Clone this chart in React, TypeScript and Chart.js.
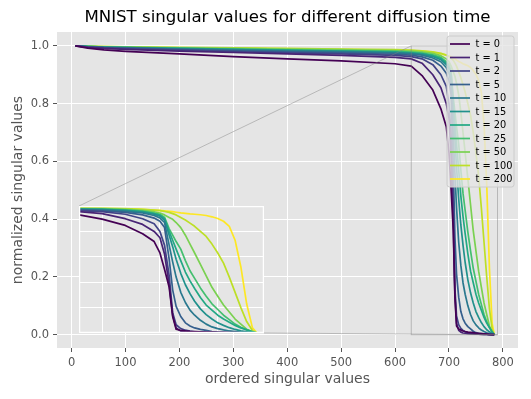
import React, { useEffect, useRef } from "react";
import { Chart, registerables } from "chart.js";
Chart.register(...registerables);

// ---- data ----
const xs = [7, 30, 60, 100, 200, 300, 400, 500, 600, 630, 650, 670, 685, 695, 700, 704, 708, 711, 714, 718, 722, 726, 730, 735, 740, 745, 750, 755, 760, 765, 770, 775, 780, 784];

const labels = ["t = 0", "t = 1", "t = 2", "t = 5", "t = 10", "t = 15", "t = 20", "t = 25", "t = 50", "t = 100", "t = 200"];
const colors = ["#440154", "#482475", "#414487", "#355f8d", "#2a788e", "#21918c", "#22a884", "#44bf70", "#7ad151", "#bddf26", "#fde725"];

const t0 = [1.0, 0.992, 0.986, 0.981, 0.972, 0.963, 0.955, 0.948, 0.938, 0.93, 0.897, 0.847, 0.782, 0.72, 0.63, 0.5, 0.36, 0.13, 0.03, 0.02, 0.016, 0.013, 0.011, 0.009, 0.008, 0.007, 0.006, 0.005, 0.004, 0.003, 0.002, 0.001, 0.0005, 0];
const t1 = [1.0, 0.995, 0.991, 0.988, 0.982, 0.977, 0.972, 0.967, 0.96, 0.955, 0.94, 0.9, 0.855, 0.8, 0.75, 0.62, 0.38, 0.14, 0.04, 0.015, 0.009, 0.006, 0.005, 0.004, 0.003, 0.003, 0.002, 0.002, 0.001, 0.001, 0.001, 0.0005, 0.0002, 0];
const t2 = [1.0, 0.996, 0.993, 0.99, 0.985, 0.98, 0.976, 0.972, 0.967, 0.963, 0.955, 0.935, 0.9, 0.86, 0.8, 0.69, 0.45, 0.16, 0.065, 0.035, 0.022, 0.015, 0.01, 0.007, 0.005, 0.004, 0.003, 0.002, 0.002, 0.001, 0.001, 0.0005, 0.0002, 0];
const t5 = [1.0, 0.997, 0.994, 0.992, 0.987, 0.983, 0.979, 0.976, 0.971, 0.968, 0.962, 0.95, 0.93, 0.905, 0.88, 0.83, 0.58, 0.34, 0.21, 0.13, 0.08, 0.055, 0.04, 0.028, 0.02, 0.012, 0.007, 0.005, 0.004, 0.003, 0.002, 0.001, 0.0005, 0];
const t10 = [1.0, 0.997, 0.995, 0.993, 0.989, 0.985, 0.982, 0.979, 0.975, 0.972, 0.968, 0.958, 0.945, 0.925, 0.905, 0.87, 0.69, 0.56, 0.44, 0.32, 0.24, 0.18, 0.14, 0.1, 0.07, 0.048, 0.034, 0.024, 0.016, 0.011, 0.007, 0.004, 0.002, 0];
const t15 = [1.0, 0.997, 0.995, 0.994, 0.99, 0.987, 0.984, 0.981, 0.977, 0.974, 0.971, 0.963, 0.952, 0.935, 0.92, 0.89, 0.77, 0.68, 0.58, 0.47, 0.38, 0.31, 0.25, 0.19, 0.145, 0.11, 0.08, 0.06, 0.042, 0.028, 0.017, 0.01, 0.004, 0];
const t20 = [1.0, 0.998, 0.996, 0.994, 0.991, 0.988, 0.985, 0.982, 0.979, 0.976, 0.973, 0.966, 0.956, 0.94, 0.928, 0.9, 0.8, 0.73, 0.66, 0.57, 0.48, 0.41, 0.35, 0.28, 0.22, 0.18, 0.14, 0.11, 0.085, 0.06, 0.04, 0.025, 0.01, 0];
const t25 = [1.0, 0.998, 0.996, 0.995, 0.992, 0.989, 0.986, 0.984, 0.981, 0.978, 0.975, 0.969, 0.96, 0.945, 0.935, 0.91, 0.82, 0.77, 0.72, 0.66, 0.57, 0.49, 0.43, 0.355, 0.29, 0.23, 0.185, 0.14, 0.105, 0.07, 0.045, 0.025, 0.01, 0];
const t50 = [1.0, 0.998, 0.997, 0.996, 0.993, 0.991, 0.989, 0.987, 0.984, 0.982, 0.979, 0.974, 0.966, 0.955, 0.945, 0.93, 0.91, 0.895, 0.87, 0.83, 0.77, 0.7, 0.63, 0.54, 0.45, 0.36, 0.29, 0.22, 0.165, 0.11, 0.07, 0.03, 0.01, 0];
const t100 = [1.0, 0.999, 0.998, 0.997, 0.995, 0.993, 0.991, 0.989, 0.987, 0.985, 0.983, 0.979, 0.974, 0.968, 0.963, 0.957, 0.95, 0.94, 0.93, 0.91, 0.89, 0.865, 0.84, 0.8, 0.76, 0.7, 0.63, 0.55, 0.44, 0.32, 0.2, 0.09, 0.02, 0];
const t200 = [1.0, 0.998, 0.996, 0.995, 0.993, 0.991, 0.989, 0.987, 0.985, 0.984, 0.982, 0.978, 0.973, 0.968, 0.965, 0.962, 0.958, 0.955, 0.951, 0.946, 0.942, 0.938, 0.935, 0.931, 0.925, 0.915, 0.902, 0.88, 0.84, 0.73, 0.52, 0.23, 0.04, 0];

const series = [t0, t1, t2, t5, t10, t15, t20, t25, t50, t100, t200];

const titleText = "MNIST singular values for different diffusion time";
const xTicks = [0, 100, 200, 300, 400, 500, 600, 700, 800];
const yTicks = [0, 0.2, 0.4, 0.6, 0.8, 1.0];
const insetXTicks = [650, 700, 750];
const insetYTicks = [0, 0.2, 0.4, 0.6, 0.8, 1.0];
const zoomX = [630, 790];
const zoomY = [0, 1];
// inset placement in axes fraction: [x0, y0, width, height]
const insetBox = [0.048, 0.046, 0.4, 0.403];

const FONT = "DejaVu Sans";
const BG = "#E5E5E5";

function makeDatasets() {
  return series.map((s, i) => ({
    label: labels[i],
    data: xs.map((x, j) => ({ x, y: s[j] })),
    borderColor: colors[i],
    backgroundColor: colors[i],
    borderWidth: 1.7,
    borderJoinStyle: "round" as const,
    pointRadius: 0,
    pointHoverRadius: 0,
    tension: 0,
    fill: false,
  }));
}

function insetRect(ca: any) {
  const w = ca.right - ca.left;
  const h = ca.bottom - ca.top;
  return {
    left: Math.round(ca.left + insetBox[0] * w),
    right: Math.round(ca.left + (insetBox[0] + insetBox[2]) * w),
    top: Math.round(ca.bottom - (insetBox[1] + insetBox[3]) * h),
    bottom: Math.round(ca.bottom - insetBox[1] * h),
  };
}

const bgPlugin = {
  id: "bgFill",
  beforeDraw(chart: any) {
    const { ctx, chartArea: ca } = chart;
    ctx.save();
    ctx.fillStyle = BG;
    ctx.fillRect(ca.left, ca.top, ca.right - ca.left, ca.bottom - ca.top);
    ctx.fillStyle = "#000";
    ctx.font = `16.6px "${FONT}"`;
    ctx.textAlign = "center";
    ctx.textBaseline = "middle";
    ctx.fillText(titleText, (ca.left + ca.right) / 2, 18);
    ctx.restore();
  },
};

const zoomPlugin = {
  id: "zoomIndicator",
  afterDatasetsDraw(chart: any) {
    const { ctx, chartArea: ca, scales } = chart;
    const x0 = scales.x.getPixelForValue(zoomX[0]);
    const x1 = scales.x.getPixelForValue(zoomX[1]);
    const y0 = scales.y.getPixelForValue(zoomY[0]);
    const y1 = scales.y.getPixelForValue(zoomY[1]);
    const r = insetRect(ca);
    ctx.save();
    ctx.strokeStyle = "rgba(128,128,128,0.5)";
    ctx.lineWidth = 0.9;
    ctx.strokeRect(x0, y1, x1 - x0, y0 - y1);
    ctx.beginPath();
    ctx.moveTo(r.left, r.top);
    ctx.lineTo(x0, y1);
    ctx.moveTo(r.right, r.bottom);
    ctx.lineTo(x1, y0);
    ctx.stroke();
    ctx.restore();
  },
};

const legendPlugin = {
  id: "mplLegend",
  afterDraw(chart: any) {
    const { ctx, chartArea: ca } = chart;
    const w = 67;
    const h = 151;
    const x0 = ca.right - 4 - w;
    const y0 = ca.top + 4;
    ctx.save();
    ctx.beginPath();
    const rr = 2.5;
    ctx.moveTo(x0 + rr, y0);
    ctx.lineTo(x0 + w - rr, y0);
    ctx.quadraticCurveTo(x0 + w, y0, x0 + w, y0 + rr);
    ctx.lineTo(x0 + w, y0 + h - rr);
    ctx.quadraticCurveTo(x0 + w, y0 + h, x0 + w - rr, y0 + h);
    ctx.lineTo(x0 + rr, y0 + h);
    ctx.quadraticCurveTo(x0, y0 + h, x0, y0 + h - rr);
    ctx.lineTo(x0, y0 + rr);
    ctx.quadraticCurveTo(x0, y0, x0 + rr, y0);
    ctx.closePath();
    ctx.fillStyle = "rgba(229,229,229,0.8)";
    ctx.fill();
    ctx.strokeStyle = "#cccccc";
    ctx.lineWidth = 1;
    ctx.stroke();
    ctx.font = `9.8px "${FONT}"`;
    ctx.textBaseline = "middle";
    ctx.textAlign = "left";
    chart.data.datasets.forEach((ds: any, i: number) => {
      const cy = y0 + 8 + i * 13.5;
      ctx.strokeStyle = ds.borderColor;
      ctx.lineWidth = 1.7;
      ctx.beginPath();
      ctx.moveTo(x0 + 3, cy);
      ctx.lineTo(x0 + 23, cy);
      ctx.stroke();
      ctx.fillStyle = "#000";
      ctx.fillText(ds.label, x0 + 28.5, cy + 0.5);
    });
    ctx.restore();
  },
};

const insetFramePlugin = {
  id: "insetFrame",
  beforeDraw(chart: any) {
    const { ctx, chartArea: ca } = chart;
    ctx.save();
    ctx.fillStyle = BG;
    ctx.fillRect(ca.left, ca.top, ca.right - ca.left, ca.bottom - ca.top);
    ctx.restore();
  },
  afterDraw(chart: any) {
    const { ctx, chartArea: ca } = chart;
    ctx.save();
    ctx.strokeStyle = "#ffffff";
    ctx.lineWidth = 1.5;
    ctx.strokeRect(ca.left + 0.5, ca.top + 0.5, ca.right - ca.left - 1, ca.bottom - ca.top - 1);
    ctx.restore();
  },
};

export default function App() {
  const mainRef = useRef<HTMLCanvasElement>(null);
  const insetRef = useRef<HTMLCanvasElement>(null);

  useEffect(() => {
    document.body.style.margin = "0";
    const mainCanvas = mainRef.current!;
    const insetCanvas = insetRef.current!;

    const main = new Chart(mainCanvas, {
      type: "line",
      data: { datasets: makeDatasets() as any },
      options: {
        responsive: false,
        maintainAspectRatio: false,
        animation: false,
        events: [],
        layout: { padding: { left: 0, right: 13, top: 32, bottom: 0 } },
        plugins: {
          legend: { display: false },
          tooltip: { enabled: false },
          title: { display: false },
        },
        scales: {
          x: {
            type: "linear",
            min: -27,
            max: 828,
            afterBuildTicks: (scale: any) => {
              scale.ticks = xTicks.map((v) => ({ value: v }));
            },
            afterFit: (scale: any) => {
              scale.height = 51;
            },
            ticks: {
              color: "#555555",
              font: { family: FONT, size: 11.5 },
              padding: 4,
              maxRotation: 0,
              callback: (v: any) => String(v),
            },
            grid: { color: "#ffffff", lineWidth: 1, tickColor: "#555555", tickLength: 4, tickWidth: 1 },
            border: { display: false },
            title: {
              display: true,
              text: "ordered singular values",
              color: "#555555",
              font: { family: FONT, size: 14 },
              padding: { top: 0, bottom: 11.5 },
            },
          },
          y: {
            type: "linear",
            min: -0.046,
            max: 1.048,
            afterBuildTicks: (scale: any) => {
              scale.ticks = yTicks.map((v) => ({ value: v }));
            },
            afterFit: (scale: any) => {
              scale.width = 57;
            },
            ticks: {
              color: "#555555",
              font: { family: FONT, size: 11.5 },
              padding: 4,
              callback: (v: any) => Number(v).toFixed(1),
            },
            grid: { color: "#ffffff", lineWidth: 1, tickColor: "#555555", tickLength: 4, tickWidth: 1 },
            border: { display: false },
            title: {
              display: true,
              text: "normalized singular values",
              color: "#555555",
              font: { family: FONT, size: 14 },
              padding: { top: 9.5, bottom: 0 },
            },
          },
        },
      },
      plugins: [bgPlugin, zoomPlugin, legendPlugin],
    });

    const r = insetRect(main.chartArea);
    const iw = r.right - r.left;
    const ih = r.bottom - r.top;
    insetCanvas.style.left = r.left + "px";
    insetCanvas.style.top = r.top + "px";
    insetCanvas.width = iw;
    insetCanvas.height = ih;
    insetCanvas.style.width = iw + "px";
    insetCanvas.style.height = ih + "px";

    const inset = new Chart(insetCanvas, {
      type: "line",
      data: { datasets: makeDatasets() as any },
      options: {
        responsive: false,
        maintainAspectRatio: false,
        animation: false,
        events: [],
        layout: { padding: 0 },
        plugins: { legend: { display: false }, tooltip: { enabled: false }, title: { display: false } },
        scales: {
          x: {
            type: "linear",
            min: zoomX[0],
            max: zoomX[1],
            afterBuildTicks: (scale: any) => {
              scale.ticks = insetXTicks.map((v) => ({ value: v }));
            },
            afterFit: (scale: any) => {
              scale.height = 0;
            },
            ticks: { display: false },
            grid: { color: "#ffffff", lineWidth: 1, drawTicks: false },
            border: { display: false },
          },
          y: {
            type: "linear",
            min: zoomY[0],
            max: zoomY[1],
            afterBuildTicks: (scale: any) => {
              scale.ticks = insetYTicks.map((v) => ({ value: v }));
            },
            afterFit: (scale: any) => {
              scale.width = 0;
            },
            ticks: { display: false },
            grid: { color: "#ffffff", lineWidth: 1, drawTicks: false },
            border: { display: false },
          },
        },
      },
      plugins: [insetFramePlugin],
    });

    return () => {
      inset.destroy();
      main.destroy();
    };
  }, []);

  return (
    <div style={{ position: "fixed", left: 0, top: 0, width: 531, height: 399, background: "#ffffff" }}>
      <canvas ref={mainRef} width={531} height={399} style={{ position: "absolute", left: 0, top: 0, width: 531, height: 399 }} />
      <canvas ref={insetRef} style={{ position: "absolute", left: 0, top: 0 }} />
    </div>
  );
}
